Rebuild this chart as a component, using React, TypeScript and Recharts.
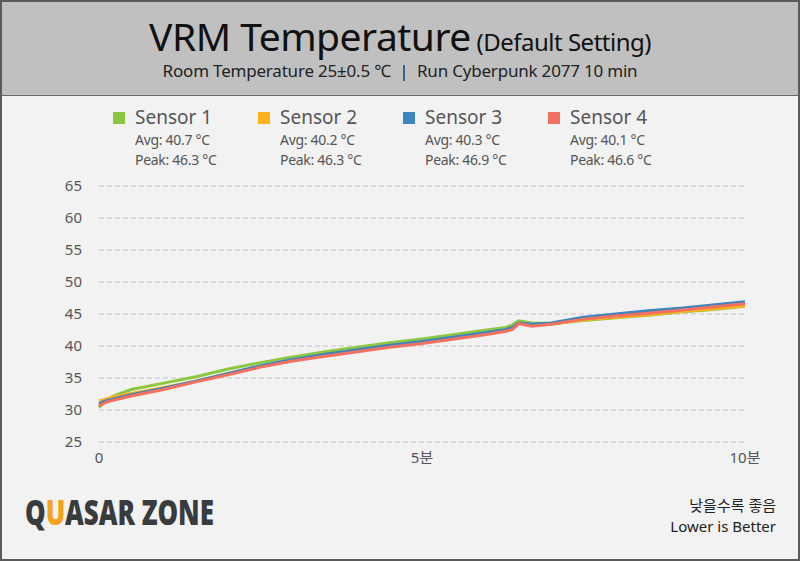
import React from 'react';
import { LineChart, Line, XAxis, YAxis, CartesianGrid } from 'recharts';

const times = [0, 0.1, 0.25, 0.5, 1, 1.5, 2, 2.5, 3, 3.5, 4, 4.5, 5, 5.5, 6, 6.3, 6.4, 6.5, 6.7, 7, 7.5, 8, 8.5, 9, 9.5, 10];
const sensor1 = [30.4, 31.5, 32.3, 33.2, 34.2, 35.2, 36.4, 37.4, 38.3, 39.1, 39.8, 40.5, 41.1, 41.8, 42.5, 42.9, 43.3, 43.95, 43.6, 43.5, 44.0, 44.4, 44.8, 45.3, 45.7, 46.2];
const sensor2 = [31.4, 31.7, 32.1, 32.6, 33.5, 34.5, 35.7, 36.8, 37.8, 38.6, 39.3, 40.0, 40.6, 41.3, 42.0, 42.5, 42.8, 43.5, 43.3, 43.4, 44.1, 44.5, 44.9, 45.4, 45.8, 46.3];
const sensor3 = [31.0, 31.4, 31.8, 32.4, 33.4, 34.5, 35.7, 36.9, 37.9, 38.7, 39.4, 40.1, 40.7, 41.4, 42.1, 42.6, 42.9, 43.6, 43.4, 43.6, 44.5, 45.0, 45.5, 45.9, 46.4, 46.9];
const sensor4 = [30.6, 31.2, 31.6, 32.2, 33.2, 34.4, 35.5, 36.7, 37.65, 38.4, 39.1, 39.8, 40.4, 41.1, 41.8, 42.3, 42.6, 43.5, 43.1, 43.4, 44.2, 44.7, 45.1, 45.6, 46.1, 46.6];

const seriesNames = ['Sensor 1', 'Sensor 2', 'Sensor 3', 'Sensor 4'];
const seriesAvg = ['40.7', '40.2', '40.3', '40.1'];
const seriesPeak = ['46.3', '46.3', '46.9', '46.6'];
const seriesColors = ['#8dc63f', '#fdb21d', '#3d85c0', '#f47160'];
const yTicks = [25, 30, 35, 40, 45, 50, 55, 60, 65];
const xTicks = [0, 5, 10];
const xTickLabels = ['0', '5분', '10분'];

const data = times.map((t, i) => ({ t, s1: sensor1[i], s2: sensor2[i], s3: sensor3[i], s4: sensor4[i] }));
const keys = ['s1', 's2', 's3', 's4'];

const font = '"Noto Sans", "Noto Sans CJK KR", sans-serif';

export default function App() {
  return (
    <div style={{ position: 'absolute', left: 0, top: 0, width: 800, height: 561, background: '#f2f2f2', fontFamily: font, overflow: 'hidden' }}>
      <div style={{ position: 'absolute', left: 0, top: 0, width: 800, height: 561, boxSizing: 'border-box', border: '2px solid #5a5a5a', zIndex: 5, pointerEvents: 'none' }} />
      <div style={{ position: 'absolute', left: 0, top: 0, width: 800, height: 96, background: '#c0c0c0', borderBottom: '1px solid #6a6a6a', boxSizing: 'border-box' }}>
        <div style={{ position: 'absolute', top: 9, width: 800, textAlign: 'center', color: '#111', whiteSpace: 'nowrap', letterSpacing: -0.5 }}>
          <span style={{ fontSize: 39 }}>VRM Temperature</span>
          <span style={{ fontSize: 24 }}> (Default Setting)</span>
        </div>
        <div style={{ position: 'absolute', top: 59, width: 800, textAlign: 'center', fontSize: 17, color: '#222', whiteSpace: 'nowrap', letterSpacing: -0.2 }}>
          Room Temperature 25±0.5 ℃ &nbsp;|&nbsp; Run Cyberpunk 2077 10 min
        </div>
      </div>
      {seriesNames.map((n, i) => (
        <div key={n} style={{ position: 'absolute', left: 113 + i * 145, top: 106, color: '#555', whiteSpace: 'nowrap' }}>
          <div style={{ position: 'absolute', left: 0, top: 6, width: 12, height: 12, background: seriesColors[i] }} />
          <div style={{ position: 'absolute', left: 22, top: 0, fontSize: 19, lineHeight: '22px' }}>{n}</div>
          <div style={{ position: 'absolute', left: 22, top: 25, fontSize: 14, lineHeight: '17px', letterSpacing: -0.3 }}>Avg: {seriesAvg[i]} °C</div>
          <div style={{ position: 'absolute', left: 22, top: 44.5, fontSize: 14, lineHeight: '17px', letterSpacing: -0.3 }}>Peak: {seriesPeak[i]} °C</div>
        </div>
      ))}
      <div style={{ position: 'absolute', left: 0, top: 170 }}>
        <LineChart width={800} height={300} data={data} margin={{ top: 16, right: 55, bottom: 0, left: 0 }}>
          <CartesianGrid vertical={false} stroke="#c4c4c4" strokeDasharray="5 3" />
          <XAxis dataKey="t" type="number" domain={[0, 10]} ticks={xTicks} tickFormatter={(v: number) => xTickLabels[xTicks.indexOf(v)]} axisLine={false} tickLine={false} height={28} tick={{ fontSize: 15, fill: '#555', fontFamily: font }} tickMargin={4} interval={0} />
          <YAxis type="number" domain={[25, 65]} ticks={yTicks} axisLine={false} tickLine={false} width={99} tickSize={0} tickMargin={17} tick={{ fontSize: 15, fill: '#555', fontFamily: font }} interval={0} />
          {keys.map((k, i) => (
            <Line key={k} dataKey={k} type="linear" stroke={seriesColors[i]} strokeWidth={3} dot={false} isAnimationActive={false} />
          ))}
        </LineChart>
      </div>
      <div style={{ position: 'absolute', left: 25, top: 490, fontSize: 35, fontWeight: 900, color: '#3a3b3d', whiteSpace: 'nowrap', transform: 'scaleX(0.74)', transformOrigin: 'left top', lineHeight: '44px' }}>
        Q<span style={{ color: '#f5a31a' }}>U</span>ASAR ZONE
      </div>
      <div style={{ position: 'absolute', right: 24, top: 495, textAlign: 'right', fontSize: 15, color: '#222', lineHeight: '21px', whiteSpace: 'nowrap' }}>
        <div>낮을수록 좋음</div>
        <div>Lower is Better</div>
      </div>
    </div>
  );
}
